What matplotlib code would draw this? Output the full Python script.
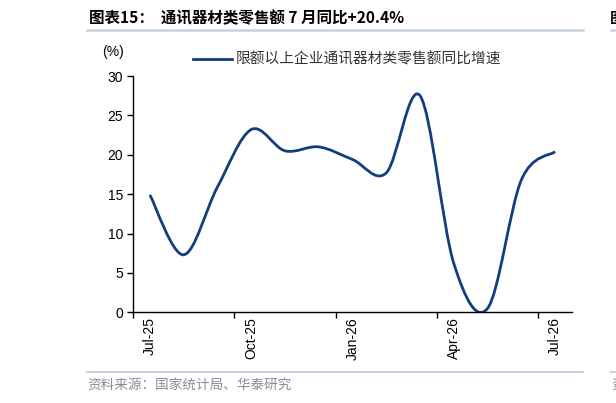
import numpy as np
import matplotlib
matplotlib.use('Agg')
import matplotlib.pyplot as plt
from matplotlib.path import Path
from matplotlib.patches import PathPatch
from matplotlib.lines import Line2D

plt.rcParams['font.family'] = ['Liberation Sans', 'Noto Sans CJK SC', 'DejaVu Sans']

# monthly yoy growth of communication equipment retail sales (%)
months = ['Jul-25', 'Aug-25', 'Sep-25', 'Oct-25', 'Nov-25', 'Dec-25', 'Jan-26',
          'Feb-26', 'Mar-26', 'Apr-26', 'May-26', 'Jun-26', 'Jul-26']
growth = [14.9, 7.3, 15.9, 23.2, 20.5, 21.0, 19.4, 17.7, 27.5, 6.2, 0.5, 16.8, 20.4]
tick_labels = ['Jul-25', 'Oct-25', 'Jan-26', 'Apr-26', 'Jul-26']
y_ticks = [0, 5, 10, 15, 20, 25, 30]

title = '图表15：  通讯器材类零售额 7 月同比+20.4%'
legend_label = '限额以上企业通讯器材类零售额同比增速'
source = '资料来源：国家统计局、华泰研究'

LINE_COLOR = '#123E7C'
RULE_COLOR = '#C5D3E4'
CJK = ['Noto Sans CJK SC', 'DejaVu Sans']


def smooth_path(xs, ys):
    # excel-like smoothed line: catmull-rom segments as cubic beziers
    pts = np.column_stack([xs, ys]).astype(float)
    n = len(pts)
    verts = [pts[0]]
    codes = [Path.MOVETO]
    for i in range(n - 1):
        p0 = pts[max(i - 1, 0)]
        p1 = pts[i]
        p2 = pts[i + 1]
        p3 = pts[min(i + 2, n - 1)]
        c1 = p1 + (p2 - p0) / 6.0
        c2 = p2 - (p3 - p1) / 6.0
        verts += [c1, c2, p2]
        codes += [Path.CURVE4] * 3
    return Path(verts, codes)


fig = plt.figure(figsize=(6.16, 4.03), dpi=100)
ax = fig.add_axes([133 / 616, 1 - 312.3 / 403, (572 - 133) / 616, (312.3 - 76) / 403])

x = np.arange(len(months))
patch = PathPatch(smooth_path(x, growth), facecolor='none', edgecolor=LINE_COLOR,
                  lw=2.0, capstyle='butt', joinstyle='round')
ax.add_patch(patch)

ax.set_xlim(-0.5, len(months) - 0.5)
ax.set_ylim(0, 30)
ax.set_yticks(y_ticks)
ax.set_xticks([months.index(m) - 0.5 for m in tick_labels])
ax.set_xticklabels([])
for m in tick_labels:
    ax.text(months.index(m), -0.02, m, transform=ax.get_xaxis_transform(),
            rotation=90, ha='center', va='top', fontsize=10, color='black')

for s in ['top', 'right']:
    ax.spines[s].set_visible(False)
for s in ['left', 'bottom']:
    ax.spines[s].set_linewidth(1.0)
ax.tick_params(axis='both', direction='out', length=4, width=1.0, labelsize=10, pad=3)

ax.text(-0.045, 1.10, '(%)', transform=ax.transAxes, fontsize=10, ha='center', va='center')

# legend
fig.add_artist(Line2D([193 / 616, 232 / 616], [1 - 59 / 403] * 2, color=LINE_COLOR, lw=2.0))
fig.text(236 / 616, 1 - 59 / 403, legend_label, family=CJK, fontsize=10.6,
         color='#333333', ha='left', va='center')

# header and footer
fig.text(89 / 616, 1 - 18 / 403, title, family=CJK, fontsize=11.2, fontweight='bold',
         ha='left', va='center', color='black')
fig.add_artist(Line2D([87 / 616, 583 / 616], [1 - 30 / 403] * 2, color=RULE_COLOR, lw=1.8))
fig.add_artist(Line2D([611 / 616, 1.0], [1 - 30 / 403] * 2, color=RULE_COLOR, lw=1.8))
fig.text(610 / 616, 1 - 18 / 403, '图', family=CJK, fontsize=11, fontweight='bold',
         ha='left', va='center', color='black')

fig.add_artist(Line2D([87 / 616, 583 / 616], [1 - 372 / 403] * 2, color=RULE_COLOR, lw=1.5))
fig.add_artist(Line2D([611 / 616, 1.0], [1 - 372 / 403] * 2, color=RULE_COLOR, lw=1.5))
fig.text(87 / 616, 1 - 385 / 403, source, family=CJK, fontsize=9.8,
         ha='left', va='center', color='#8C8C8C')
fig.text(611 / 616, 1 - 385 / 403, '资', family=CJK, fontsize=9.8,
         ha='left', va='center', color='#8C8C8C')

fig.savefig('out.png', dpi=100)
